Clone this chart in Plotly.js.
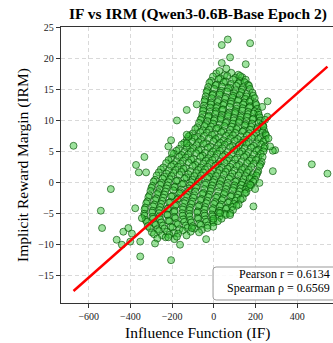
<!DOCTYPE html>
<html>
<head>
<meta charset="utf-8">
<script src="https://cdn.plot.ly/plotly-3.0.1.min.js"></script>
<style>
html,body{margin:0;padding:0;overflow:hidden;background:#fff;}
#chart{width:342px;height:343px;}
</style>
</head>
<body>
<div id="chart"></div>
<script>
// ---- Data ----
// Sparse / outlying points (IF, IRM)
const outIF = [38, 67, 174, 78, 38, 153, 27, 60, 126,
  -130, -82, -177, -122, -205, -218,
  -673, -333, -373, -360, -325, -201,
  258, 232, 257, 246, 238, 262, 294,
  283, 283, 470, 545, 270, 219, 190, 198, 174,
  -37, -162, -494, -542, -536, -377, -353, -205,
  -466, -434, -410, -393, -441, -401, -353, -282, -218, -177,
  -2, -105, 30, 78, -345, -130, -130];
const outIRM = [22.2, 23.1, 22.5, 20.2, 19.3, 19.1, 18.0, 18.4, 17.2,
  11.7, 12.6, 10.0, 7.4, 6.8, 5.8,
  5.9, 4.1, 2.8, 1.6, 1.6, 4.7,
  13.1, 12.2, 10.6, 10.1, 9.0, 7.1, 5.2,
  5.1, 1.8, 2.9, 1.4, 5.8, -0.1, -3.9, -1.1, -0.4,
  -9.2, -10.1, -1.1, -4.6, -7.4, -4.2, -12.0, -12.6,
  -9.3, -8.0, -7.4, -8.3, -10.1, -9.6, -9.6, -9.9, -8.9, -8.8,
  -5.9, -7.4, -5.0, -5.3, -5.8, 7.7, 6.3];

// Dense core of the cloud (estimated, row by row)
const coreIF = [
  12, 50, 84, 117,
  -4, 31, 64, 103, 136,
  -13, 23, 57, 93, 126, 153,
  -21, 14, 48, 82, 118, 147, 164,
  -27, 9, 39, 78, 108, 141, 169,
  -31, 2, 36, 69, 105, 135, 173,
  -35, -3, 30, 64, 97, 131, 159, 185,
  -39, -6, 28, 57, 93, 124, 156, 189,
  -42, -10, 23, 54, 89, 119, 151, 176, 196,
  -45, -13, 18, 51, 83, 116, 147, 171, 200,
  -47, -14, 17, 46, 81, 111, 141, 175, 204,
  -50, -18, 12, 45, 76, 109, 138, 171, 208,
  -52, -19, 11, 40, 74, 103, 137, 165, 197, 213,
  -55, -24, 7, 39, 69, 102, 131, 164, 191, 216,
  -59, -26, 5, 34, 68, 96, 129, 159, 191, 220,
  -64, -30, 1, 33, 62, 95, 124, 157, 186, 223,
  -71, -37, -4, 28, 57, 91, 120, 153, 183, 215, 232,
  -79, -44, -13, 21, 51, 86, 116, 149, 179, 211, 237,
  -89, -54, -22, 13, 45, 79, 109, 144, 174, 208, 241,
  -101, -65, -33, 4, 36, 71, 103, 138, 169, 204, 233, 248,
  -115, -79, -46, -9, 24, 59, 92, 128, 159, 194, 225, 250,
  -129, -93, -61, -24, 9, 46, 79, 114, 146, 182, 214, 249,
  -142, -106, -73, -37, -2, 31, 67, 100, 136, 168, 205, 238,
  -154, -119, -83, -49, -16, 21, 53, 90, 122, 158, 191, 227, 245,
  -167, -130, -98, -61, -28, 9, 41, 78, 110, 147, 179, 215, 242,
  -179, -142, -110, -73, -41, -4, 29, 66, 98, 135, 167, 204, 238,
  -192, -155, -122, -85, -53, -16, 17, 54, 86, 123, 156, 192, 225,
  -204, -167, -134, -97, -64, -27, 6, 43, 75, 112, 145, 181, 213, 234,
  -217, -180, -147, -109, -76, -39, -6, 31, 64, 101, 134, 171, 203, 229,
  -229, -192, -159, -121, -88, -51, -18, 19, 52, 89, 122, 159, 191, 224,
  -242, -205, -171, -134, -101, -63, -30, 7, 40, 77, 110, 147, 180, 219,
  -254, -217, -183, -146, -112, -75, -42, -5, 28, 65, 98, 135, 168, 213,
  -264, -227, -193, -156, -122, -85, -51, -14, 19, 56, 89, 126, 159, 188, 209,
  -274, -237, -203, -165, -132, -94, -61, -23, 10, 48, 81, 118, 151, 181, 204,
  -282, -245, -211, -174, -140, -102, -69, -31, 2, 40, 73, 110, 143, 172, 197,
  -289, -251, -217, -180, -146, -108, -75, -37, -3, 34, 67, 104, 137, 165, 189,
  -295, -257, -223, -186, -152, -114, -80, -42, -8, 29, 62, 99, 132, 158, 179,
  -299, -261, -227, -189, -156, -118, -84, -46, -12, 25, 58, 95, 128, 152, 169,
  -304, -266, -232, -194, -160, -122, -88, -50, -16, 21, 54, 91, 123, 156,
  -309, -271, -237, -199, -165, -127, -93, -55, -21, 16, 49, 86, 117, 149,
  -314, -276, -242, -204, -170, -132, -98, -60, -26, 11, 44, 81, 111, 139,
  -319, -281, -247, -209, -175, -137, -103, -65, -31, 6, 39, 76, 103, 129,
  -324, -286, -252, -214, -180, -142, -108, -70, -36, 1, 34, 69, 95, 119,
  -329, -291, -257, -219, -185, -147, -113, -75, -41, -4, 29, 63, 87, 109,
  -332, -294, -260, -222, -188, -150, -116, -78, -44, -7, 27, 59, 92,
  -334, -296, -262, -224, -190, -152, -118, -80, -46, -9, 23, 54, 79,
  -332, -294, -260, -222, -188, -150, -116, -78, -44, -7, 26, 57,
  -327, -291, -257, -219, -185, -147, -113, -75, -41, -4, 37,
  -322, -286, -252, -214, -180, -142, -108, -70, -36, -1, 19,
  -317, -279, -245, -207, -173, -135, -101, -63, -29, -3,
  -307, -271, -237, -199, -165, -127, -93, -57, -31,
  -297, -263, -225, -191, -149, -111, -71,
  -287, -249, -213, -171, -131,
  -271, -231, -189];
const coreIRM = [
  17.6, 17.3, 17.7, 17.4,
  17.1, 16.8, 17.2, 16.9, 17.0,
  16.4, 16.7, 16.3, 16.6, 16.4, 16.6,
  16.1, 15.8, 16.2, 15.9, 16.0, 16.2, 15.8,
  15.4, 15.7, 15.5, 15.3, 15.6, 15.4, 15.6,
  14.9, 15.1, 14.8, 15.2, 14.9, 15.0, 15.1,
  14.6, 14.3, 14.5, 14.7, 14.4, 14.6, 14.3, 14.5,
  13.9, 14.1, 14.2, 13.8, 14.0, 14.1, 13.9, 14.0,
  13.4, 13.6, 13.3, 13.5, 13.7, 13.4, 13.5, 13.3, 13.6,
  13.1, 12.9, 13.0, 12.8, 13.1, 13.2, 12.9, 13.0, 12.8,
  12.4, 12.6, 12.3, 12.5, 12.7, 12.4, 12.6, 12.3, 12.5,
  11.9, 12.1, 12.0, 11.8, 12.2, 11.9, 12.0, 12.1, 11.9,
  11.6, 11.4, 11.5, 11.7, 11.3, 11.5, 11.6, 11.4, 11.5, 11.3,
  11.0, 10.8, 11.1, 10.9, 11.0, 11.2, 10.8, 11.0, 11.1, 10.9,
  10.4, 10.6, 10.3, 10.5, 10.7, 10.4, 10.5, 10.6, 10.3, 10.5,
  10.1, 9.9, 10.0, 10.2, 9.8, 10.0, 10.1, 9.9, 10.2, 10.0,
  9.6, 9.4, 9.5, 9.3, 9.6, 9.5, 9.7, 9.4, 9.5, 9.6, 9.3,
  8.9, 9.1, 9.0, 8.8, 9.1, 9.0, 8.9, 9.2, 9.0, 8.9, 9.1,
  8.6, 8.4, 8.5, 8.7, 8.3, 8.5, 8.6, 8.4, 8.5, 8.6, 8.4,
  7.9, 8.1, 8.0, 7.8, 8.1, 7.9, 8.0, 8.2, 7.9, 8.0, 8.1, 7.8,
  7.6, 7.4, 7.5, 7.7, 7.3, 7.5, 7.6, 7.4, 7.6, 7.5, 7.3, 7.6,
  7.0, 7.2, 6.9, 7.1, 7.0, 6.8, 7.1, 7.0, 6.9, 7.2, 7.0, 6.9,
  6.4, 6.6, 6.5, 6.3, 6.6, 6.4, 6.5, 6.7, 6.4, 6.5, 6.3, 6.6,
  6.1, 5.9, 6.0, 6.2, 5.8, 6.0, 6.1, 5.9, 6.0, 6.2, 5.9, 6.1, 5.8,
  5.4, 5.6, 5.5, 5.3, 5.6, 5.4, 5.5, 5.7, 5.4, 5.5, 5.6, 5.3, 5.5,
  5.1, 4.9, 5.0, 5.2, 4.8, 5.0, 5.1, 4.9, 5.2, 5.0, 4.9, 5.1, 5.0,
  4.6, 4.4, 4.5, 4.7, 4.3, 4.5, 4.6, 4.4, 4.5, 4.7, 4.4, 4.5, 4.6,
  3.9, 4.1, 4.0, 3.8, 4.1, 3.9, 4.0, 4.2, 3.9, 4.0, 4.1, 3.8, 4.0, 4.1,
  3.6, 3.4, 3.5, 3.7, 3.3, 3.5, 3.6, 3.4, 3.5, 3.7, 3.4, 3.5, 3.6, 3.3,
  3.1, 2.9, 3.0, 3.2, 2.8, 3.0, 3.1, 2.9, 3.1, 3.0, 2.8, 3.1, 3.0, 2.9,
  2.4, 2.6, 2.5, 2.3, 2.6, 2.4, 2.5, 2.7, 2.4, 2.5, 2.6, 2.3, 2.5, 2.6,
  2.1, 1.9, 2.0, 2.2, 1.8, 2.0, 2.1, 1.9, 2.0, 2.2, 1.9, 2.1, 2.0, 1.8,
  1.6, 1.4, 1.5, 1.7, 1.3, 1.5, 1.6, 1.4, 1.5, 1.7, 1.4, 1.5, 1.6, 1.3, 1.5,
  1.1, 0.9, 1.0, 1.2, 0.8, 1.0, 1.1, 0.9, 1.0, 1.2, 0.9, 1.1, 1.0, 0.8, 1.1,
  0.4, 0.6, 0.5, 0.3, 0.6, 0.4, 0.5, 0.7, 0.4, 0.5, 0.6, 0.3, 0.5, 0.6, 0.4,
  0.1, -0.1, 0.0, 0.2, -0.2, 0.0, 0.1, -0.1, 0.0, 0.2, -0.1, 0.1, 0.0, -0.2, 0.1,
  -0.6, -0.4, -0.5, -0.7, -0.3, -0.5, -0.6, -0.4, -0.5, -0.3, -0.6, -0.5, -0.4, -0.7, -0.5,
  -0.9, -1.1, -1.0, -0.8, -1.2, -1.0, -0.9, -1.1, -1.0, -0.8, -1.1, -0.9, -1.0, -1.2, -0.9,
  -1.4, -1.6, -1.5, -1.3, -1.6, -1.4, -1.5, -1.7, -1.4, -1.5, -1.6, -1.3, -1.5, -1.6,
  -2.1, -1.9, -2.0, -2.2, -1.8, -2.0, -2.1, -1.9, -2.0, -2.2, -1.9, -2.1, -2.0, -1.8,
  -2.4, -2.6, -2.5, -2.3, -2.6, -2.4, -2.5, -2.7, -2.4, -2.5, -2.6, -2.3, -2.5, -2.6,
  -3.1, -2.9, -3.0, -3.2, -2.8, -3.0, -3.1, -2.9, -3.0, -3.2, -2.9, -3.1, -3.0, -2.8,
  -3.4, -3.6, -3.5, -3.3, -3.6, -3.4, -3.5, -3.7, -3.4, -3.5, -3.6, -3.3, -3.5, -3.6,
  -4.1, -3.9, -4.0, -4.2, -3.8, -4.0, -4.1, -3.9, -4.0, -4.2, -3.9, -4.1, -4.0, -3.8,
  -4.4, -4.6, -4.5, -4.3, -4.6, -4.4, -4.5, -4.7, -4.4, -4.5, -4.6, -4.3, -4.5,
  -5.1, -4.9, -5.0, -5.2, -4.8, -5.0, -5.1, -4.9, -5.0, -5.2, -4.9, -5.1, -5.0,
  -5.4, -5.6, -5.5, -5.3, -5.6, -5.4, -5.5, -5.7, -5.4, -5.5, -5.6, -5.3,
  -6.1, -5.9, -6.0, -6.2, -5.8, -6.0, -6.1, -5.9, -6.0, -6.2, -5.9,
  -6.4, -6.6, -6.5, -6.3, -6.6, -6.4, -6.5, -6.7, -6.4, -6.5, -6.3,
  -7.1, -6.9, -7.0, -7.2, -6.8, -7.0, -7.1, -6.9, -7.0, -7.2,
  -7.4, -7.6, -7.5, -7.3, -7.6, -7.4, -7.5, -7.7, -7.4,
  -8.1, -7.9, -8.0, -8.2, -7.8, -8.0, -8.1,
  -8.4, -8.6, -8.5, -8.3, -8.6,
  -9.1, -8.9, -9.2];

// Least-squares fit
const fitSlope = 0.0298;
const fitIntercept = 2.46;

const xTicks = [-600, -400, -200, 0, 200, 400];
const yTicks = [-15, -10, -5, 0, 5, 10, 15, 20, 25];
const statLines = ['Pearson r = 0.6134', 'Spearman \u03C1 = 0.6569'];
const titleText = 'IF vs IRM (Qwen3-0.6B-Base Epoch 2)';
const xTitle = 'Influence Function (IF)';
const yTitle = 'Implicit Reward Margin (IRM)';

// ---- Build chart ----
const allIF = coreIF.concat(outIF);
const allIRM = coreIRM.concat(outIRM);
const xmin = Math.min.apply(null, allIF);
const xmax = Math.max.apply(null, allIF);
const lineX = [xmin, xmax];
const lineY = lineX.map(v => fitIntercept + fitSlope * v);

const serif = 'Liberation Serif, Times New Roman, serif';

const scatter = {
  type: 'scatter', mode: 'markers', x: allIF, y: allIRM,
  marker: {size: 7, color: 'rgba(60,200,60,0.5)', line: {color: 'rgba(0,75,0,0.8)', width: 0.8}},
  hoverinfo: 'skip'
};
const fit = {
  type: 'scatter', mode: 'lines', x: lineX, y: lineY,
  line: {color: '#ff0000', width: 2.5}, hoverinfo: 'skip'
};

const axisCommon = {
  ticks: 'outside', ticklen: 4, tickwidth: 1, tickcolor: '#333',
  showline: true, linecolor: '#333', linewidth: 1.2, mirror: true,
  showgrid: true, gridcolor: '#d0d0d0', gridwidth: 0.8, griddash: '4px,3px',
  zeroline: false, tickfont: {family: serif, size: 10, color: '#222'}
};

const x0 = 0.543, x1 = 1.03, y0 = 0.0109, y1 = 0.1304, rx = 0.011, ry = 0.011;
const boxPath = `M ${x0+rx},${y0} L ${x1-rx},${y0} Q ${x1},${y0} ${x1},${y0+ry} L ${x1},${y1-ry} Q ${x1},${y1} ${x1-rx},${y1} L ${x0+rx},${y1} Q ${x0},${y1} ${x0},${y1-ry} L ${x0},${y0+ry} Q ${x0},${y0} ${x0+rx},${y0} Z`;

const layout = {
  width: 342, height: 343,
  margin: {l: 61, r: 1, t: 27, b: 40},
  paper_bgcolor: '#fff', plot_bgcolor: '#fff',
  showlegend: false,
  title: {text: '<b>' + titleText + '</b>', font: {family: serif, size: 15.5, color: '#000'},
          x: 0.489, xref: 'paper', xanchor: 'center', y: 0.9606, yref: 'container', yanchor: 'middle'},
  xaxis: Object.assign({}, axisCommon, {range: [-733, 610], tickvals: xTicks}),
  yaxis: Object.assign({}, axisCommon, {range: [-19.53, 25.12], tickvals: yTicks}),
  shapes: [{type: 'path', xref: 'paper', yref: 'paper', path: boxPath,
            fillcolor: 'rgba(255,255,255,0.85)', line: {color: '#999', width: 1}, layer: 'above'}],
  annotations: [
    {text: xTitle, xref: 'paper', yref: 'paper', x: 0.491, y: -0.1087, xanchor: 'center', yanchor: 'middle',
     showarrow: false, font: {family: serif, size: 15.5, color: '#000'}},
    {text: yTitle, xref: 'paper', yref: 'paper', x: -0.1357, y: 0.5, xanchor: 'center', yanchor: 'middle',
     textangle: -90, showarrow: false, font: {family: serif, size: 15.5, color: '#000'}},
    {text: statLines[0], xref: 'paper', yref: 'paper', x: 0.968, y: 0.1033, xanchor: 'right', yanchor: 'middle',
     showarrow: false, font: {family: serif, size: 12, color: '#000'}},
    {text: statLines[1], xref: 'paper', yref: 'paper', x: 0.968, y: 0.0555, xanchor: 'right', yanchor: 'middle',
     showarrow: false, font: {family: serif, size: 12, color: '#000'}}
  ]
};

Plotly.newPlot('chart', [scatter, fit], layout, {displayModeBar: false, staticPlot: true});
</script>
</body>
</html>
